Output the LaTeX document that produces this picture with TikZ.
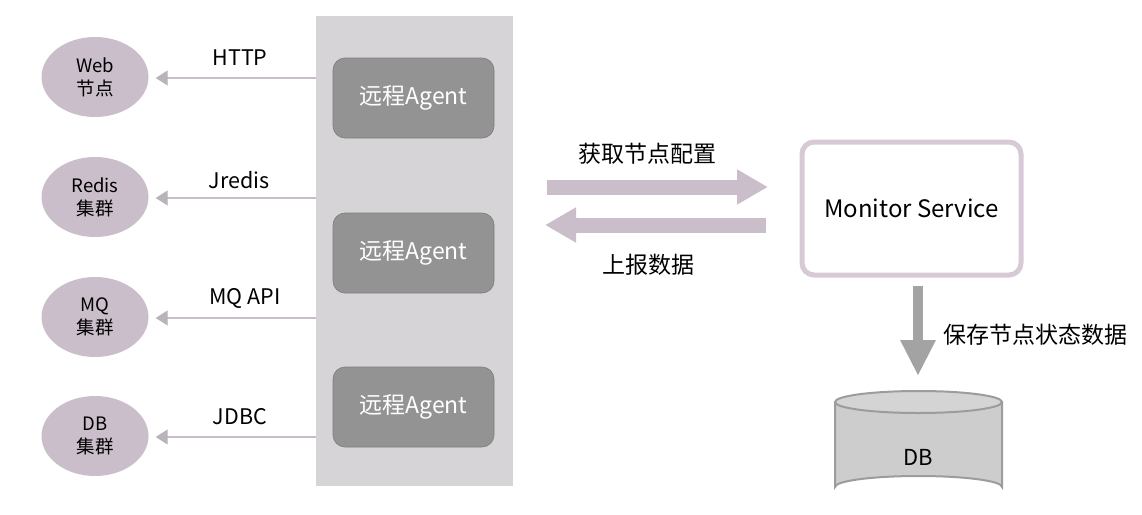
\documentclass[tikz,border=0pt]{standalone}
\usepackage{fontspec}
\setmainfont{Noto Sans CJK SC}
\usetikzlibrary{arrows.meta,calc}
\definecolor{lav}{HTML}{CABECB}
\definecolor{lavline}{HTML}{C9BDCB}
\definecolor{panelc}{HTML}{D6D4D7}
\definecolor{agentc}{HTML}{939393}
\definecolor{tipc}{HTML}{B9B3BA}
\definecolor{msborder}{HTML}{D5CAD6}
\definecolor{dbfill}{HTML}{CDCDCD}
\definecolor{dbline}{HTML}{9C9C9C}
\definecolor{downc}{HTML}{A3A3A3}
\tikzset{
  cluster/.style={ellipse, fill=lav, minimum width=107pt, minimum height=80pt, inner sep=0pt, align=center, font=\fontsize{18.5}{23}\selectfont},
  agentbox/.style={rectangle, rounded corners=12pt, fill=agentc, draw=agentc!85!black, line width=0.6pt, minimum width=161pt, minimum height=80pt, text=white, font=\fontsize{23}{27}\selectfont},
  lbl/.style={font=\fontsize{21.5}{25}\selectfont},
  biglbl/.style={font=\fontsize{23}{27}\selectfont},
  thinarrow/.style={draw=lavline, line width=1.3pt, -{Triangle[length=12pt,width=15pt,fill=tipc,color=tipc]}, shorten >=7pt},
  bigarrow/.style={draw=lav, line width=15pt, -{Triangle[length=31pt,width=33pt,color=lav]}},
}
\usetikzlibrary{shapes.geometric}
\begin{document}
\begin{tikzpicture}[x=1pt,y=-1pt]
\useasboundingbox (0,0) rectangle (1142,514);
% panel
\node[rectangle, fill=panelc, minimum width=197pt, minimum height=470pt, inner sep=0pt] (panel) at (414.5,251) {};
\node[agentbox] (a1) at (413.5,98) {远程Agent};
\node[agentbox] (a2) at (413.5,253) {远程Agent};
\node[agentbox] (a3) at (413.5,407) {远程Agent};
% clusters
\node[cluster] (web) at (95,77) {Web\\节点};
\node[cluster] (redis) at (95,197) {Redis\\集群};
\node[cluster] (mq) at (95,317) {MQ\\集群};
\node[cluster] (dbc) at (95,436) {DB\\集群};
% thin arrows
\draw[thinarrow] (panel.west |- 0,78) -- (web.east |- 0,78);
\draw[thinarrow] (panel.west |- 0,198) -- (redis.east |- 0,198);
\draw[thinarrow] (panel.west |- 0,318) -- (mq.east |- 0,318);
\draw[thinarrow] (panel.west |- 0,437) -- (dbc.east |- 0,437);
\node[lbl] (l1) at (240,58) {HTTP};
\node[lbl] (l2) at (239,180) {Jredis};
\node[lbl] (l3) at (245,298) {MQ API};
\node[lbl] (l4) at (240,417) {JDBC};
% monitor service
\node[rectangle, rounded corners=12pt, draw=msborder, line width=5pt, fill=white, minimum width=219pt, minimum height=133pt] (ms) at (911.5,208.5) {};
\node[font=\fontsize{24}{28}\selectfont] (mst) at (ms.center) {Monitor Service};
% big arrows
\coordinate (r1) at (547,187);
\coordinate (r2) at (768,187);
\coordinate (q1) at (766,225);
\coordinate (q2) at (545,225);
\draw[bigarrow] (r1) -- (r2);
\draw[bigarrow] (q1) -- (q2);
\node[biglbl] (g1) at (647,154) {获取节点配置};
\node[biglbl] (g2) at (648,265) {上报数据};
% DB cylinder
\node[rectangle, minimum width=167pt, minimum height=108pt, inner sep=0pt] (db) at (918.5,445) {};
\fill[dbfill] (835,402) -- (835,487) arc[start angle=180,end angle=360,x radius=83.5,y radius=11] -- (1002,402) -- cycle;
\fill[dbfill!85!white] (918.5,402) ellipse[x radius=83.5,y radius=11];
\draw[dbline, line width=2pt] (835,402) -- (835,487) arc[start angle=180,end angle=360,x radius=83.5,y radius=11] -- (1002,402);
\draw[dbline, line width=2pt] (918.5,402) ellipse[x radius=83.5,y radius=11];
\node[font=\fontsize{22}{26}\selectfont] (dbt) at (918.5,457) {DB};
% down arrow
\coordinate (d1) at (918,286);
\coordinate (d2) at (918,376);
\draw[draw=downc, line width=10pt, -{Triangle[length=36pt,width=33pt,color=downc]}] (d1) -- (d2);
\node[biglbl, anchor=west] (sv) at (940,335) {保存节点状态数据};
\end{tikzpicture}
\end{document}
